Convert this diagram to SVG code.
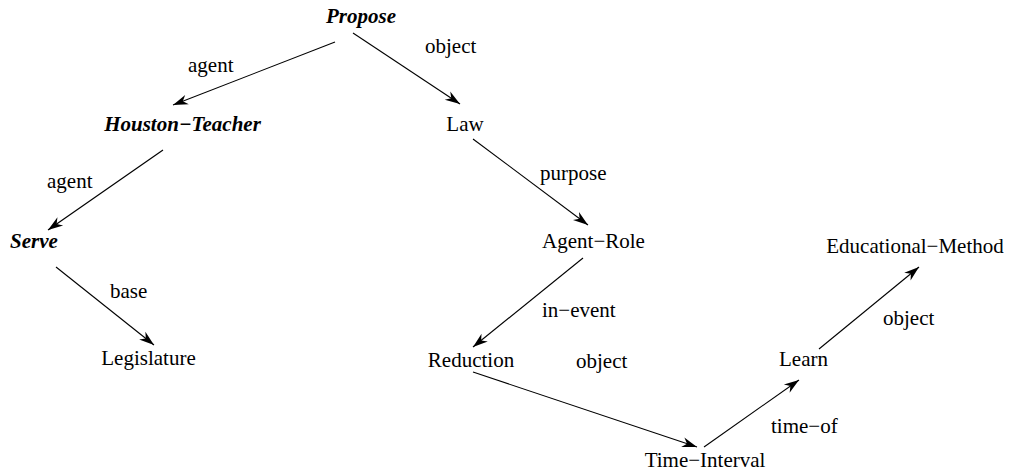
<svg xmlns="http://www.w3.org/2000/svg" width="1010" height="474" viewBox="0 0 1010 474">
  <style>
    text { font-family: "Liberation Serif", "Times New Roman", serif; font-size: 21px; fill: #000; }
    .node { text-anchor: middle; }
    .key { font-weight: bold; font-style: italic; }
    .edge { stroke: #000; stroke-width: 1.1; fill: none; marker-end: url(#head); }
  </style>
  <defs>
    <marker id="head" markerUnits="userSpaceOnUse" markerWidth="20" markerHeight="14" viewBox="-16 -7 17 14" refX="0" refY="0" orient="auto">
      <path d="M0,0 L-15,-5 L-10.5,0 L-15,5 Z" fill="#000"/>
    </marker>
  </defs>

  <g id="connectors">
    <line class="edge" x1="335" y1="42" x2="173" y2="105"/>
    <line class="edge" x1="353" y1="33" x2="460" y2="104"/>
    <line class="edge" x1="163" y1="150" x2="48" y2="230"/>
    <line class="edge" x1="56" y1="267" x2="154" y2="345"/>
    <line class="edge" x1="473" y1="139" x2="588" y2="225"/>
    <line class="edge" x1="583" y1="258" x2="473" y2="347"/>
    <line class="edge" x1="473" y1="372" x2="697" y2="447"/>
    <line class="edge" x1="704" y1="447" x2="799" y2="380"/>
    <line class="edge" x1="819" y1="349" x2="919" y2="267"/>
  </g>

  <g id="edge-labels">
    <text x="188" y="72">agent</text>
    <text x="425" y="53">object</text>
    <text x="47" y="188">agent</text>
    <text x="110" y="298">base</text>
    <text x="540" y="180">purpose</text>
    <text x="542" y="317">in−event</text>
    <text x="576" y="368">object</text>
    <text x="771" y="433">time−of</text>
    <text x="883" y="325">object</text>
  </g>

  <g id="propose"><text class="node key" x="361" y="23">Propose</text></g>
  <g id="houston-teacher"><text class="node key" x="182.5" y="131">Houston−Teacher</text></g>
  <g id="law"><text class="node" x="465" y="131">Law</text></g>
  <g id="serve"><text class="node key" x="34" y="248">Serve</text></g>
  <g id="legislature"><text class="node" x="148.5" y="365">Legislature</text></g>
  <g id="agent-role"><text class="node" x="593.5" y="248">Agent−Role</text></g>
  <g id="reduction"><text class="node" x="471" y="367">Reduction</text></g>
  <g id="time-interval"><text class="node" x="705" y="467">Time−Interval</text></g>
  <g id="learn"><text class="node" x="803.5" y="366">Learn</text></g>
  <g id="educational-method"><text class="node" x="915" y="253">Educational−Method</text></g>
</svg>
